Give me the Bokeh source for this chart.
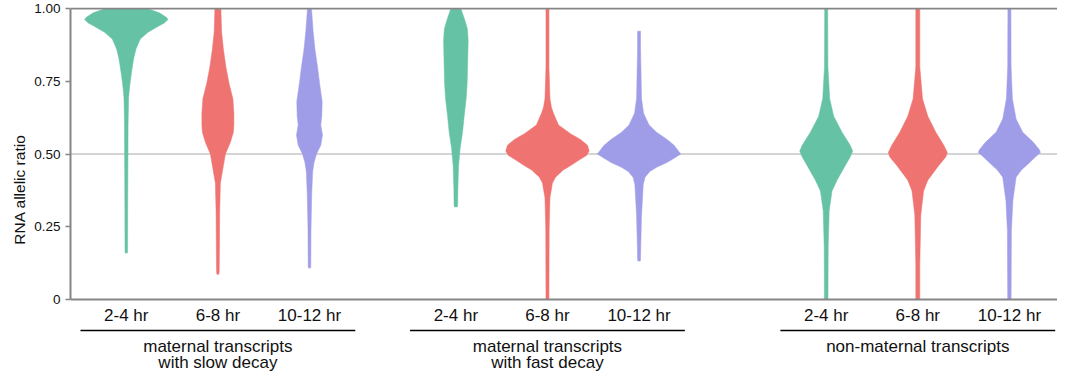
from bokeh.plotting import figure
from bokeh.models import Range1d, FixedTicker, Span, Title
from bokeh.embed import file_html
from bokeh.resources import INLINE
from bokeh.core.properties import value

# ---------------- data ----------------
timepoints = ["2-4 hr", "6-8 hr", "10-12 hr"]
group_line1 = ["maternal transcripts", "maternal transcripts", "non-maternal transcripts"]
group_line2 = ["with slow decay", "with fast decay", ""]
y_ticks = [0, 0.25, 0.5, 0.75, 1.0]
y_tick_labels = ["0", "0.25", "0.50", "0.75", "1.00"]
y_title = "RNA allelic ratio"
time_colors = ["#66C2A5", "#EF7370", "#A09DE8"]

# violin profiles: RNA allelic ratio levels (top -> bottom) and relative density (violin half-width)
slow_24_ratio = [1.00, 0.985, 0.97, 0.962, 0.95, 0.94, 0.918, 0.895, 0.861, 0.83, 0.805, 0.775, 0.749, 0.72, 0.692, 0.60, 0.45, 0.30, 0.17, 0.16]
slow_24_dens = [21, 33, 40, 41.7, 38, 32.5, 21.7, 14, 9.7, 7.5, 6.3, 5, 4, 3, 2.3, 1.8, 1.6, 1.4, 1.3, 1.1]
slow_68_ratio = [1.00, 0.92, 0.86, 0.80, 0.745, 0.69, 0.64, 0.60, 0.575, 0.54, 0.50, 0.46, 0.44, 0.40, 0.30, 0.15, 0.095, 0.087]
slow_68_dens = [3, 3.7, 5.5, 8, 11, 15, 16, 16, 15.5, 12.5, 7.5, 5.5, 4.5, 2.5, 1.8, 1.5, 1.3, 1.0]
slow_1012_ratio = [1.00, 0.92, 0.86, 0.80, 0.745, 0.68, 0.63, 0.60, 0.565, 0.53, 0.50, 0.47, 0.44, 0.37, 0.24, 0.115, 0.108]
slow_1012_dens = [2, 3.7, 5.5, 8, 10, 12.7, 12.3, 11.3, 13, 11.3, 7, 4.5, 3.2, 2.3, 1.5, 1.3, 1.0]

fast_24_ratio = [1.00, 0.96, 0.93, 0.89, 0.80, 0.745, 0.69, 0.63, 0.575, 0.52, 0.46, 0.38, 0.325, 0.318]
fast_24_dens = [5, 9, 11.5, 12.3, 11.7, 11.3, 10.3, 8.3, 6.7, 4.3, 2.7, 2, 1.8, 1.4]
fast_68_ratio = [1.00, 0.80, 0.69, 0.66, 0.64, 0.60, 0.57, 0.55, 0.53, 0.51, 0.495, 0.48, 0.46, 0.445, 0.42, 0.40, 0.35, 0.24, 0.0]
fast_68_dens = [1.5, 1.5, 2.5, 4, 6, 11, 23, 33, 40, 41.7, 39, 32, 23, 15.8, 8, 5, 2.5, 1.7, 1.5]
fast_1012_ratio = [0.922, 0.86, 0.69, 0.64, 0.60, 0.575, 0.55, 0.53, 0.50, 0.485, 0.47, 0.455, 0.44, 0.42, 0.395, 0.29, 0.18, 0.14, 0.132]
fast_1012_dens = [1.5, 1.5, 2.5, 4.5, 10, 17.5, 28, 35, 41.7, 35, 27.5, 18, 10.8, 6, 4.2, 2.5, 1.7, 1.5, 1.2]

nonmat_24_ratio = [1.00, 0.80, 0.69, 0.63, 0.575, 0.53, 0.51, 0.49, 0.46, 0.41, 0.373, 0.305, 0.18, 0.0]
nonmat_24_dens = [1.5, 1.7, 3.5, 7.5, 15.8, 24, 26.5, 24, 19, 10.8, 5.8, 3, 2, 1.8]
nonmat_68_ratio = [1.00, 0.80, 0.69, 0.63, 0.575, 0.53, 0.505, 0.49, 0.46, 0.41, 0.373, 0.29, 0.12, 0.0]
nonmat_68_dens = [2, 2, 4.7, 10, 18, 26, 29.5, 28, 20.8, 10, 5.8, 3, 2, 2]
nonmat_1012_ratio = [1.00, 0.80, 0.69, 0.62, 0.575, 0.54, 0.515, 0.505, 0.49, 0.47, 0.445, 0.42, 0.34, 0.236, 0.0]
nonmat_1012_dens = [1.5, 1.7, 3, 6.7, 13.3, 24, 30, 31, 26, 20, 12, 6.7, 3.5, 2, 1.7]

violins = [
    [(slow_24_ratio, slow_24_dens), (slow_68_ratio, slow_68_dens), (slow_1012_ratio, slow_1012_dens)],
    [(fast_24_ratio, fast_24_dens), (fast_68_ratio, fast_68_dens), (fast_1012_ratio, fast_1012_dens)],
    [(nonmat_24_ratio, nonmat_24_dens), (nonmat_68_ratio, nonmat_68_dens), (nonmat_1012_ratio, nonmat_1012_dens)],
]

# ---------------- layout ----------------
W, H = 1057, 371
BORDER_LEFT = 70
BORDER_TOP = 7
PX_PER_X = 91.6          # pixels per x unit (spacing between violins)
PX_PER_Y = 291.0         # pixels per unit of allelic ratio
group_centers = [1.609, 5.207, 9.25]
MAX_HALF_WIDTH = 41.7 / PX_PER_X
max_dens = max(max(d) for grp in violins for (_, d) in grp)

y_end = 1.0 + 1.0 / PX_PER_Y
y_start = y_end - (H - BORDER_TOP) / PX_PER_Y
x_end = (W - BORDER_LEFT) / PX_PER_X
frame_mid_px = 1 + (H - BORDER_TOP) / 2.0     # frame centre, px below the 1.0 line
title_shift = frame_mid_px - 0.5 * PX_PER_Y   # move y title to the centre of 0..1


def below(px):
    return -px / PX_PER_Y


FONT = value("Liberation Sans")
TXT = "#111111"

p = figure(width=W, height=H, output_backend="svg", toolbar_location=None,
           x_range=Range1d(0, x_end), y_range=Range1d(y_start, y_end),
           x_axis_location=None, min_border_left=BORDER_LEFT, min_border_right=0,
           min_border_top=BORDER_TOP, min_border_bottom=0)
p.outline_line_color = None
p.grid.visible = False
p.background_fill_color = "white"
p.border_fill_color = "white"

# reference lines
p.add_layout(Span(location=0.5, dimension="width", line_color="#D4D4D4", line_width=2, level="underlay"))
p.add_layout(Span(location=0.0, dimension="width", line_color="#858585", line_width=2))
p.add_layout(Span(location=1.0, dimension="width", line_color="#858585", line_width=2))

# violins
xs, ys, cols = [], [], []
for g, grp in enumerate(violins):
    for t, (ratio, dens) in enumerate(grp):
        c = group_centers[g] + (t - 1)
        hw = [d / max_dens * MAX_HALF_WIDTH for d in dens]
        xs.append([c - w for w in hw] + [c + w for w in reversed(hw)])
        ys.append(list(ratio) + list(reversed(ratio)))
        cols.append(time_colors[t])
p.patches(xs, ys, fill_color=cols, line_color=cols, line_width=0.5)

# category labels, group underlines and group labels
lab_x, lab_t = [], []
for g in range(3):
    for t in range(3):
        lab_x.append(group_centers[g] + (t - 1))
        lab_t.append(timepoints[t])
p.text(x=lab_x, y=[below(16)] * len(lab_x), text=lab_t, text_align="center",
       text_baseline="middle", text_font=FONT, text_font_size="17px", text_color=TXT)

p.segment(x0=[gc - 1.5 for gc in group_centers], y0=[below(31)] * 3,
          x1=[gc + 1.5 for gc in group_centers], y1=[below(31)] * 3,
          line_color="black", line_width=1.5)

p.text(x=group_centers, y=[below(47)] * 3, text=group_line1, text_align="center",
       text_baseline="middle", text_font=FONT, text_font_size="17px", text_color=TXT)
p.text(x=group_centers, y=[below(63)] * 3, text=group_line2, text_align="center",
       text_baseline="middle", text_font=FONT, text_font_size="17px", text_color=TXT)

# y axis
ax = p.yaxis[0]
ax.ticker = FixedTicker(ticks=y_ticks)
ax.major_label_overrides = {tk: lb for tk, lb in zip(y_ticks, y_tick_labels)}
ax.bounds = (0, 1)
ax.major_label_text_font = "Liberation Sans"
ax.major_label_text_font_size = "13.5px"
ax.major_label_text_color = TXT
ax.major_label_standoff = 5
ax.axis_line_color = "#858585"
ax.axis_line_width = 2
ax.major_tick_line_color = "#858585"
ax.major_tick_line_width = 1.5
ax.major_tick_out = 5
ax.major_tick_in = 0
ax.minor_tick_line_color = None

# y-axis title, centred on the 0..1 span
p.add_layout(Title(text=y_title, align="center", offset=title_shift, standoff=8,
                   text_font="Liberation Sans", text_font_size="15.5px",
                   text_font_style="normal", text_color=TXT), "left")

open("out.html", "w").write(file_html(p, INLINE))
